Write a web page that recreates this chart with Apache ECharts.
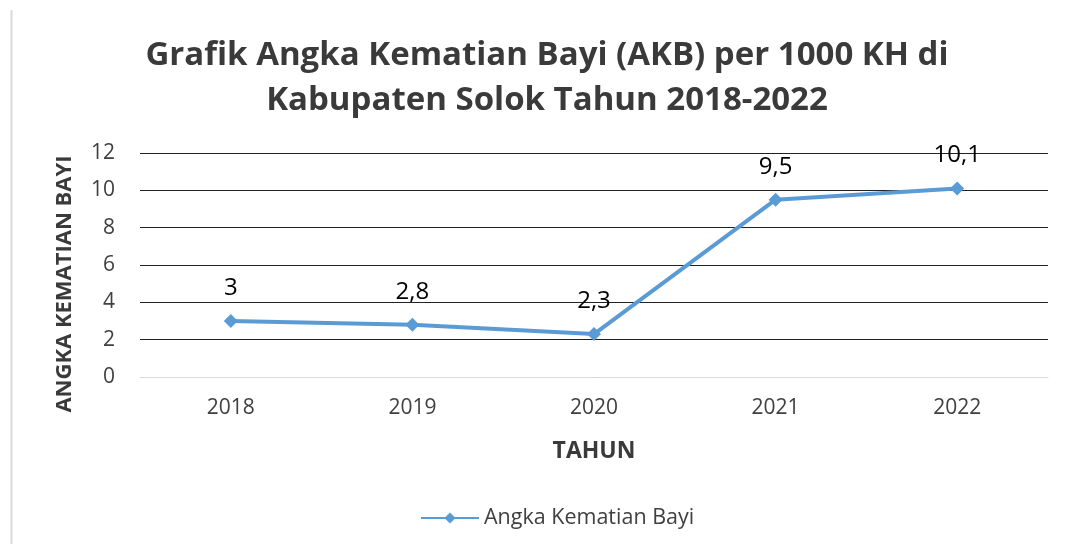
<!DOCTYPE html>
<html>
<head>
<meta charset="utf-8">
<script src="https://cdn.jsdelivr.net/npm/echarts@6/dist/echarts.min.js"></script>
<style>
  html, body { margin: 0; padding: 0; background: #fff; }
  #container { width: 1073px; height: 544px; }
</style>
</head>
<body>
<div id="container"></div>
<script>
var years = ['2018', '2019', '2020', '2021', '2022'];
var akb = [3, 2.8, 2.3, 9.5, 10.1];
var seriesName = 'Angka Kematian Bayi';

var dom = document.getElementById('container');
var myChart = echarts.init(dom);
var font = '"Open Sans", sans-serif';

var option = {
  animation: false,
  backgroundColor: '#fff',
  title: {
    text: 'Grafik Angka Kematian Bayi (AKB) per 1000 KH di\nKabupaten Solok Tahun 2018-2022',
    left: 542,
    top: 28,
    textAlign: 'center',
    textStyle: {
      fontFamily: font,
      fontWeight: 'bold',
      fontSize: 33,
      lineHeight: 45,
      color: '#3a3a3a'
    }
  },
  legend: {
    bottom: 10,
    left: 415,
    data: [seriesName],
    itemWidth: 58,
    itemHeight: 14,
    itemGap: 6,
    textStyle: { fontFamily: font, fontSize: 21.5, color: '#404040' }
  },
  grid: { left: 140, right: 25, top: 153, bottom: 167, containLabel: false },
  xAxis: {
    type: 'category',
    data: years,
    name: 'TAHUN',
    nameLocation: 'middle',
    nameGap: 63,
    nameTextStyle: { fontFamily: font, fontWeight: 'bold', fontSize: 23, color: '#3a3a3a' },
    axisLine: { lineStyle: { color: '#d9d9d9', width: 1 } },
    axisTick: { show: false },
    axisLabel: { fontFamily: font, fontSize: 21, color: '#404040', margin: 21 }
  },
  yAxis: {
    type: 'value',
    min: 0,
    max: 12,
    interval: 2,
    axisLine: { show: false },
    axisTick: { show: false },
    axisLabel: { fontFamily: font, fontSize: 21, color: '#404040', margin: 25 },
    splitLine: { lineStyle: { color: '#222', width: 1 } }
  },
  graphic: [
    {
      type: 'line',
      shape: { x1: 11.5, y1: 10, x2: 11.5, y2: 544 },
      style: { stroke: '#d9d9d9', lineWidth: 2 }
    },
    {
      type: 'text',
      x: 65,
      y: 284,
      rotation: Math.PI / 2,
      style: {
        text: 'ANGKA KEMATIAN BAYI',
        fontFamily: font,
        fontWeight: 'bold',
        fontSize: 22,
        fill: '#3a3a3a',
        align: 'center',
        verticalAlign: 'middle'
      }
    }
  ],
  series: [
    {
      name: seriesName,
      type: 'line',
      data: akb,
      symbol: 'diamond',
      symbolSize: 14,
      color: '#5b9bd5',
      lineStyle: { width: 4, color: '#5b9bd5' },
      itemStyle: { color: '#5b9bd5' },
      label: {
        show: true,
        position: 'top',
        distance: 14,
        fontFamily: font,
        fontSize: 24,
        color: '#000',
        formatter: function (p) { return String(p.value).replace('.', ','); }
      }
    }
  ]
};

if (option && typeof option === 'object') {
  myChart.setOption(option);
}
</script>
</body>
</html>
